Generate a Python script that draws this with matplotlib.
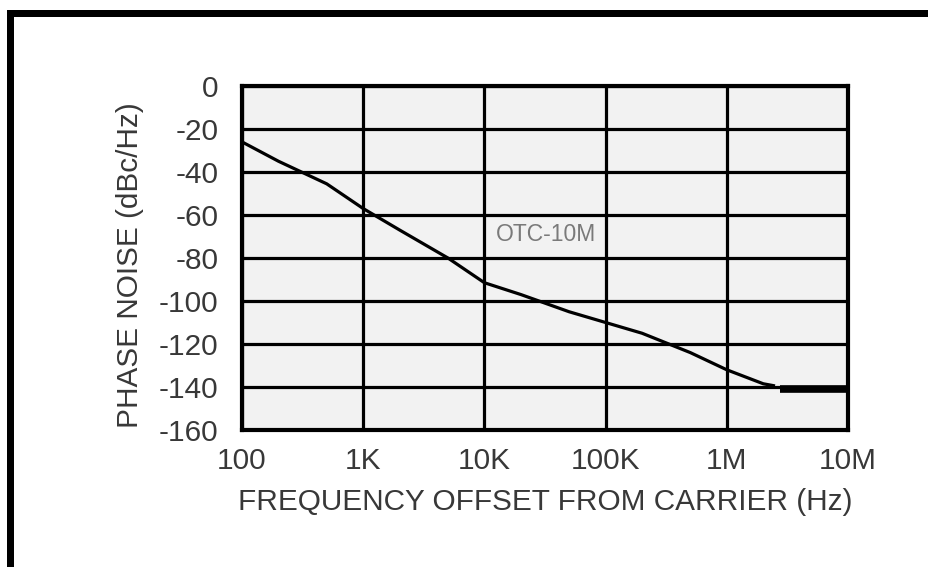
import numpy as np
import matplotlib
matplotlib.use("Agg")
import matplotlib.pyplot as plt
from matplotlib.patches import Rectangle
from matplotlib.ticker import FixedLocator, NullLocator

# phase noise curve of the oscillator (offset in Hz, level in dBc/Hz)
freq = [100, 200, 500, 1e3, 2e3, 5e3, 1e4, 2e4, 5e4, 1e5, 2e5, 5e5, 1e6, 2e6, 2.5e6]
noise = [-26, -35, -45.5, -57, -67, -80, -91.5, -97, -105, -110, -115, -124, -132, -138.5, -139.5]

# noise floor segment
floor_freq = [2.77e6, 1e7]
floor_noise = [-141, -141]

xticks = [1e2, 1e3, 1e4, 1e5, 1e6, 1e7]
xticklabels = ["100", "1K", "10K", "100K", "1M", "10M"]
yticks = list(range(0, -161, -20))

plt.rcParams['font.family'] = ['Liberation Sans', 'DejaVu Sans']
txt_color = '#383838'
fs = 21.4

fig = plt.figure(figsize=(9.29, 5.67), dpi=100)
W, H = 929, 567

# heavy black page border, top and left
fig.add_artist(Rectangle((7 / W, 1 - 17 / H), 1, 7 / H, transform=fig.transFigure,
                         color='black', lw=0))
fig.add_artist(Rectangle((7 / W, 0), 7 / W, 1 - 17 / H, transform=fig.transFigure,
                         color='black', lw=0))

ax = fig.add_axes([242 / W, 1 - 430 / H, 606 / W, 344 / H])
ax.set_facecolor('#f2f2f2')
ax.set_xscale('log')
ax.set_xlim(100, 1e7)
ax.set_ylim(-160, 0)

ax.plot(freq, noise, color='black', lw=2.3, solid_capstyle='butt', zorder=3)
ax.plot(floor_freq, floor_noise, color='black', lw=5.5, solid_capstyle='butt', zorder=3)

ax.xaxis.set_major_locator(FixedLocator(xticks))
ax.xaxis.set_minor_locator(NullLocator())
ax.set_xticklabels(xticklabels)
ax.set_yticks(yticks)
ax.set_yticklabels([str(v) for v in yticks])

ax.grid(True, color='black', lw=2.3, zorder=1)
ax.set_axisbelow(True)
for sp in ax.spines.values():
    sp.set_linewidth(3.0)
    sp.set_color('black')
    sp.set_zorder(4)

ax.tick_params(axis='both', length=0, labelsize=fs, labelcolor=txt_color)
ax.tick_params(axis='y', pad=17)
ax.tick_params(axis='x', pad=12)

ax.text(1.25e4, -69, "OTC-10M", fontsize=16.5, color='#7a7a7a',
        ha='left', va='center')

fig.text(545 / W, 1 - 502 / H, "FREQUENCY OFFSET FROM CARRIER (Hz)", fontsize=fs,
         color=txt_color, ha='center', va='center')
fig.text(130 / W, 1 - 265 / H, "PHASE NOISE (dBc/Hz)", fontsize=fs, color=txt_color,
         rotation=90, ha='center', va='center')

fig.savefig("out.png", dpi=100, facecolor='white')
